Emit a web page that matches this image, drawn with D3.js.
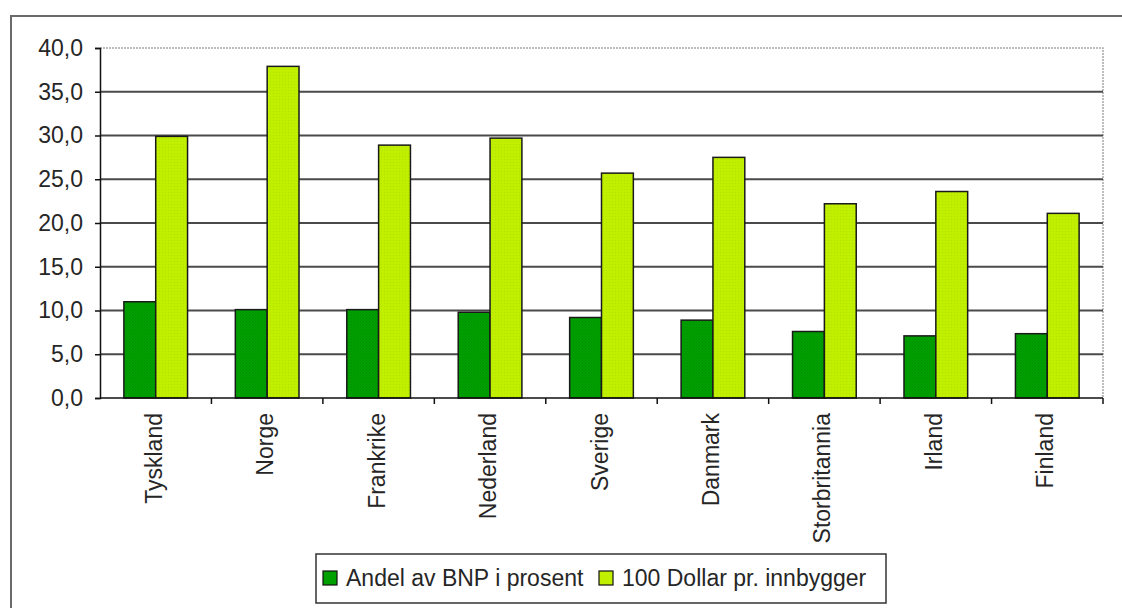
<!DOCTYPE html>
<html>
<head>
<meta charset="utf-8">
<script src="https://cdn.jsdelivr.net/npm/d3@7"></script>
<style>
  body { margin: 0; background: #fff; }
  svg text { font-family: "Liberation Sans", Arial, sans-serif; fill: #262626; }
</style>
</head>
<body>
<svg id="chart" width="1122" height="608"></svg>
<script>
// Categories and the two series (values read per country)
const countries = ["Tyskland", "Norge", "Frankrike", "Nederland", "Sverige", "Danmark", "Storbritannia", "Irland", "Finland"];
const bnpShare = [11.0, 10.1, 10.1, 9.8, 9.2, 8.9, 7.6, 7.1, 7.35];
const dollarsPerCapita = [29.9, 37.9, 28.9, 29.7, 25.7, 27.5, 22.2, 23.6, 21.1];
const seriesNames = ["Andel av BNP i prosent", "100 Dollar pr. innbygger"];
const yTicks = [0, 5, 10, 15, 20, 25, 30, 35, 40];

const seriesFill = ["url(#patDark)", "url(#patLight)"];
const swatchFill = ["#00a000", "#c0f000"];

const svg = d3.select("#chart");
const plot = { left: 100, right: 1103, top: 48, bottom: 398 };

// Textured fills for the bars
const defs = svg.append("defs");
const pDark = defs.append("pattern").attr("id", "patDark")
  .attr("width", 3).attr("height", 3).attr("patternUnits", "userSpaceOnUse");
pDark.append("rect").attr("width", 3).attr("height", 3).attr("fill", "#00a000");
pDark.append("rect").attr("width", 1).attr("height", 1).attr("fill", "#008c00");
pDark.append("rect").attr("x", 1.5).attr("y", 1.5).attr("width", 1).attr("height", 1).attr("fill", "#008c00");
const pLight = defs.append("pattern").attr("id", "patLight")
  .attr("width", 3).attr("height", 3).attr("patternUnits", "userSpaceOnUse");
pLight.append("rect").attr("width", 3).attr("height", 3).attr("fill", "#c0f000");
pLight.append("rect").attr("width", 1).attr("height", 1).attr("fill", "#b4e200");

// Outer chart frame
svg.append("path")
  .attr("d", "M11,608 V16 H1122")
  .attr("fill", "none").attr("stroke", "#6a6a6a").attr("stroke-width", 2);

const x = d3.scaleBand().domain(countries).range([plot.left, plot.right]).padding(0);
const xi = d3.scaleBand().domain([0, 1]).range([0, x.bandwidth()]).paddingInner(0).paddingOuter(0.75);
const y = d3.scaleLinear().domain([0, 40]).range([plot.bottom, plot.top]);

// Plot area border (top and right), dotted grey
svg.append("path")
  .attr("d", `M${plot.left},${plot.top} H${plot.right} V${plot.bottom}`)
  .attr("fill", "none").attr("stroke", "#a8a8a8").attr("stroke-width", 1.5)
  .attr("stroke-dasharray", "2,1");

// Horizontal gridlines
svg.append("g").selectAll("line")
  .data(yTicks.filter(d => d > 0 && d < 40))
  .join("line")
  .attr("x1", plot.left).attr("x2", plot.right)
  .attr("y1", d => y(d)).attr("y2", d => y(d))
  .attr("stroke", "#4a4a4a").attr("stroke-width", 2);

// Bars
const series = [bnpShare, dollarsPerCapita];
series.forEach((vals, si) => {
  svg.append("g").selectAll("rect")
    .data(vals)
    .join("rect")
    .attr("x", (d, i) => x(countries[i]) + xi(si))
    .attr("width", xi.bandwidth())
    .attr("y", d => y(d))
    .attr("height", d => y(0) - y(d))
    .attr("fill", seriesFill[si])
    .attr("stroke", "#1a1a1a").attr("stroke-width", 1.5);
});

// Y axis
const fmt = d => d3.format(".1f")(d).replace(".", ",");
const yAxis = svg.append("g")
  .attr("transform", `translate(${plot.left},0)`)
  .call(d3.axisLeft(y).tickValues(yTicks).tickFormat(fmt).tickSize(5).tickPadding(12));
yAxis.select(".domain").attr("stroke", "#111").attr("stroke-width", 1.5);
yAxis.selectAll(".tick line").attr("stroke", "#111").attr("stroke-width", 1.5);
yAxis.selectAll(".tick text").attr("font-size", 23).style("font-family", "\"Liberation Sans\", Arial, sans-serif").attr("fill", "#3a3a3a");

// X axis: baseline, ticks at category boundaries, rotated labels
svg.append("line")
  .attr("x1", plot.left).attr("x2", plot.right)
  .attr("y1", plot.bottom).attr("y2", plot.bottom)
  .attr("stroke", "#111").attr("stroke-width", 1.5);
const bounds = countries.map(c => x(c) + x.bandwidth());
svg.append("g").selectAll("line")
  .data(bounds)
  .join("line")
  .attr("x1", d => d).attr("x2", d => d)
  .attr("y1", plot.bottom).attr("y2", plot.bottom + 6)
  .attr("stroke", "#111").attr("stroke-width", 1.5);

svg.append("g").selectAll("text")
  .data(countries)
  .join("text")
  .attr("transform", d => `translate(${x(d) + x.bandwidth() / 2 - 2},${plot.bottom + 15}) rotate(-90)`)
  .attr("text-anchor", "end")
  .attr("dy", "0.35em")
  .attr("font-size", 23)
  .attr("fill", "#3a3a3a")
  .text(d => d);

// Legend
const legend = svg.append("g");
legend.append("rect")
  .attr("x", 316).attr("y", 554).attr("width", 570).attr("height", 49)
  .attr("fill", "#fff").attr("stroke", "#333").attr("stroke-width", 1.5);
const legendItems = [{ x: 323, tx: 346 }, { x: 599, tx: 622 }];
legendItems.forEach((it, i) => {
  legend.append("rect")
    .attr("x", it.x).attr("y", 571).attr("width", 14).attr("height", 14)
    .attr("fill", swatchFill[i]).attr("stroke", "#111").attr("stroke-width", 1.2);
  legend.append("text")
    .attr("x", it.tx).attr("y", 586)
    .attr("font-size", 23).attr("fill", "#3a3a3a")
    .text(seriesNames[i]);
});
</script>
</body>
</html>
